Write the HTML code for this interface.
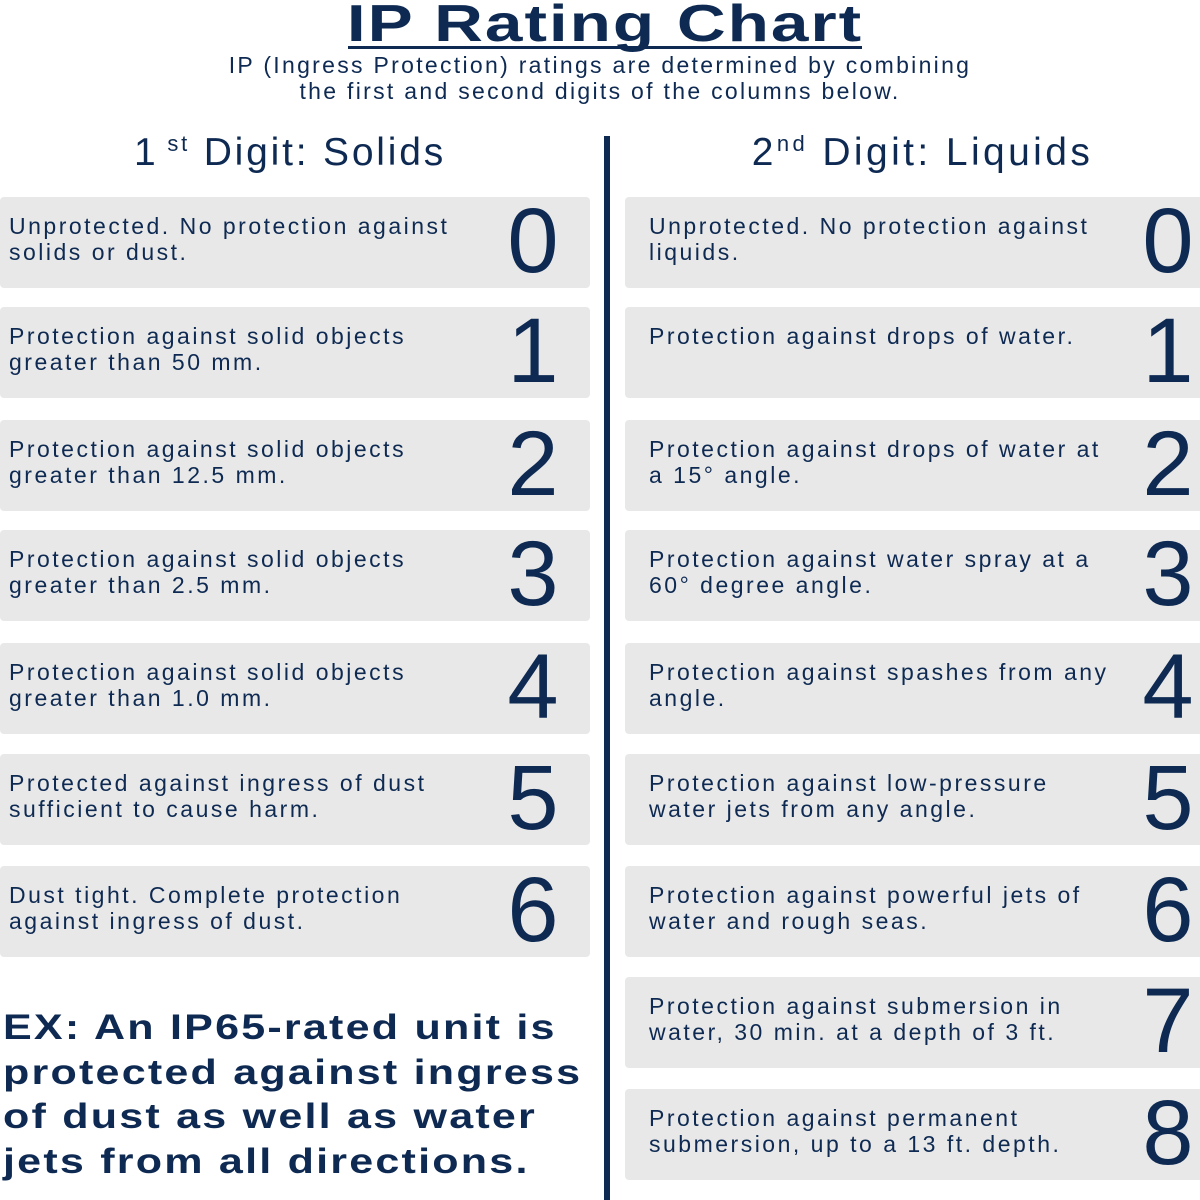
<!DOCTYPE html>
<html><head><meta charset="utf-8"><style>
body{margin:0;width:1200px;height:1200px;background:#fff;position:relative;overflow:hidden;font-family:"Liberation Sans",sans-serif;color:#0e2a52}
.a{position:absolute;white-space:nowrap}
.box{position:absolute;background:#e8e8e8;border-radius:4px;height:91px}
.d{position:absolute;left:9px;top:16px;font-size:23px;line-height:26px;letter-spacing:2.5px;white-space:nowrap}
.n{position:absolute;top:-2px;font-size:92px;line-height:92px;width:80px;text-align:center;font-weight:300}
</style></head><body>
<div class="a" style="left:348px;width:514px;top:-6px;height:52px;border-bottom:3px solid #0e2a52;box-sizing:content-box"></div>
<div class="a" style="left:605px;top:-6px;font-size:52px;font-weight:bold;letter-spacing:1.5px;line-height:60px;transform:translateX(-50%) scaleX(1.3);transform-origin:center">IP Rating Chart</div>
<div class="a" style="left:0;width:1200px;text-align:center;top:52px;font-size:23px;line-height:26px;letter-spacing:2.3px">IP (Ingress Protection) ratings are determined by combining<br>the first and second digits of the columns below.</div>
<div class="a" style="left:0;width:580px;text-align:center;top:131px;font-size:39px;letter-spacing:2.8px">1<sup style="font-size:22px;vertical-align:14px"> st</sup> Digit: Solids</div>
<div class="a" style="left:620px;width:605px;text-align:center;top:131px;font-size:39px;letter-spacing:3.4px">2<sup style="font-size:22px;vertical-align:14px">nd</sup> Digit: Liquids</div>
<div class="a" style="left:604px;top:136px;width:6px;height:1064px;background:#0e2a52"></div>

<div class="box" style="left:0;top:197px;width:590px"><div class="d">Unprotected. No protection against<br>solids or dust.</div><div class="n" style="left:493px">0</div></div>
<div class="box" style="left:0;top:307px;width:590px"><div class="d">Protection against solid objects<br>greater than 50 mm.</div><div class="n" style="left:493px">1</div></div>
<div class="box" style="left:0;top:420px;width:590px"><div class="d">Protection against solid objects<br>greater than 12.5 mm.</div><div class="n" style="left:493px">2</div></div>
<div class="box" style="left:0;top:530px;width:590px"><div class="d">Protection against solid objects<br>greater than 2.5 mm.</div><div class="n" style="left:493px">3</div></div>
<div class="box" style="left:0;top:643px;width:590px"><div class="d">Protection against solid objects<br>greater than 1.0 mm.</div><div class="n" style="left:493px">4</div></div>
<div class="box" style="left:0;top:754px;width:590px"><div class="d">Protected against ingress of dust<br>sufficient to cause harm.</div><div class="n" style="left:493px">5</div></div>
<div class="box" style="left:0;top:866px;width:590px"><div class="d">Dust tight. Complete protection<br>against ingress of dust.</div><div class="n" style="left:493px">6</div></div>

<div class="box" style="left:625px;top:197px;width:590px"><div class="d" style="left:24px">Unprotected. No protection against<br>liquids.</div><div class="n" style="left:503px">0</div></div>
<div class="box" style="left:625px;top:307px;width:590px"><div class="d" style="left:24px">Protection against drops of water.</div><div class="n" style="left:503px">1</div></div>
<div class="box" style="left:625px;top:420px;width:590px"><div class="d" style="left:24px">Protection against drops of water at<br>a 15° angle.</div><div class="n" style="left:503px">2</div></div>
<div class="box" style="left:625px;top:530px;width:590px"><div class="d" style="left:24px">Protection against water spray at a<br>60° degree angle.</div><div class="n" style="left:503px">3</div></div>
<div class="box" style="left:625px;top:643px;width:590px"><div class="d" style="left:24px">Protection against spashes from any<br>angle.</div><div class="n" style="left:503px">4</div></div>
<div class="box" style="left:625px;top:754px;width:590px"><div class="d" style="left:24px">Protection against low-pressure<br>water jets from any angle.</div><div class="n" style="left:503px">5</div></div>
<div class="box" style="left:625px;top:866px;width:590px"><div class="d" style="left:24px">Protection against powerful jets of<br>water and rough seas.</div><div class="n" style="left:503px">6</div></div>
<div class="box" style="left:625px;top:977px;width:590px"><div class="d" style="left:24px">Protection against submersion in<br>water, 30 min. at a depth of 3 ft.</div><div class="n" style="left:503px">7</div></div>
<div class="box" style="left:625px;top:1089px;width:590px"><div class="d" style="left:24px">Protection against permanent<br>submersion, up to a 13 ft. depth.</div><div class="n" style="left:503px">8</div></div>

<div class="a" style="left:3px;top:1006px;font-size:35px;font-weight:bold;line-height:44.7px;letter-spacing:1.8px;transform:scaleX(1.23);transform-origin:left top">EX: An IP65-rated unit is<br>protected against ingress<br>of dust as well as water<br>jets from all directions.</div>
</body></html>
